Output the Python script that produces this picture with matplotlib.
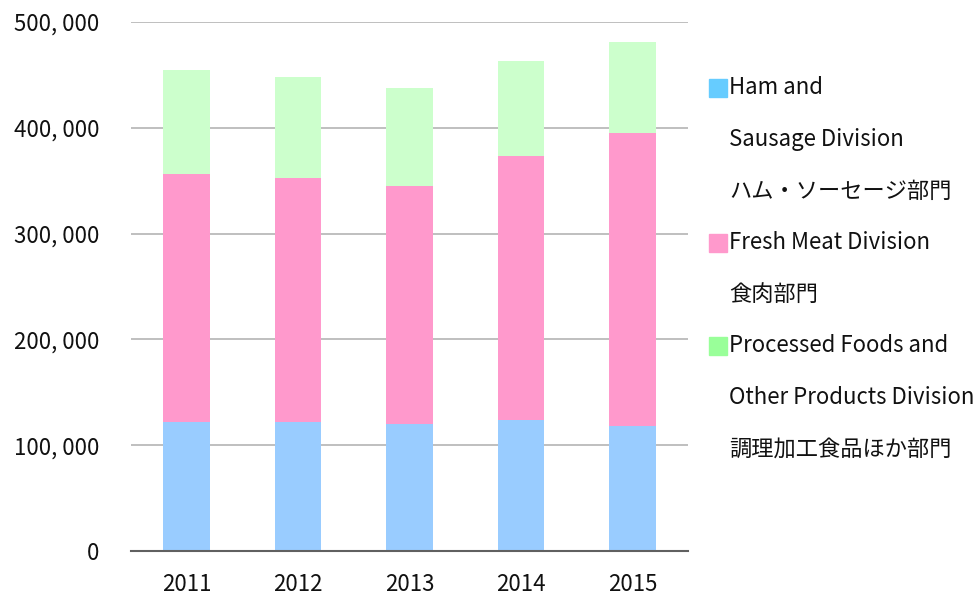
import matplotlib
matplotlib.use('Agg')
import matplotlib.pyplot as plt
from matplotlib.patches import Rectangle
import numpy as np

plt.rcParams['font.family'] = ['Noto Sans CJK JP', 'DejaVu Sans']

years = ['2011', '2012', '2013', '2014', '2015']
ham = [121900, 121900, 120000, 123800, 118500]
meat = [234400, 230700, 225000, 249500, 276300]
processed = [98000, 95100, 92300, 89600, 86000]

series = [ham, meat, processed]
bar_colors = ['#99ccff', '#ff99cc', '#ccffcc']
legend_colors = ['#66ccff', '#ff99cc', '#99ff99']
legend_labels = [
    ['Ham and', 'Sausage Division', 'ハム・ソーセージ部門'],
    ['Fresh Meat Division', '食肉部門'],
    ['Processed Foods and', 'Other Products Division', '調理加工食品ほか部門'],
]
yticks = [0, 100000, 200000, 300000, 400000, 500000]
ytick_labels = ['0', '100, 000', '200, 000', '300, 000', '400, 000', '500, 000']

W, H = 978, 597
fig = plt.figure(figsize=(W / 100, H / 100), dpi=100)
ax = fig.add_axes([131 / W, 1 - 551 / H, (688 - 131) / W, (551 - 22) / H])

x = np.arange(len(years))
bottom = np.zeros(len(years))
for vals, c in zip(series, bar_colors):
    ax.bar(x, vals, width=0.42, bottom=bottom, color=c, zorder=2)
    bottom = bottom + np.array(vals)

ax.set_xlim(-0.5, len(years) - 0.5)
ax.set_ylim(0, 500000)
ax.set_yticks(yticks)
ax.set_yticklabels(ytick_labels)
ax.set_xticks(x)
ax.set_xticklabels(years)
ax.tick_params(axis='both', length=0, labelsize=16, colors='#111111')
ax.tick_params(axis='y', pad=23)
ax.tick_params(axis='x', pad=16)
ax.yaxis.grid(True, color='#b4b4b4', linewidth=1.2, zorder=0)
ax.set_axisbelow(True)
for s in ['top', 'right', 'left']:
    ax.spines[s].set_visible(False)
ax.spines['bottom'].set_color('#606060')
ax.spines['bottom'].set_linewidth(1.5)
ax.spines['bottom'].set_zorder(3)

# legend drawn by hand: square on first line of each entry
line_y = 88
step = 51.6
for lines, c in zip(legend_labels, legend_colors):
    fig.patches.append(Rectangle((709 / W, 1 - (line_y + 9) / H), 18 / W, 18 / H,
                                 transform=fig.transFigure, color=c))
    for t in lines:
        fig.text(729 / W, 1 - line_y / H, t,
                 fontsize=16, va='center', ha='left', color='#111111')
        line_y += step

fig.savefig('out.png', dpi=100)
